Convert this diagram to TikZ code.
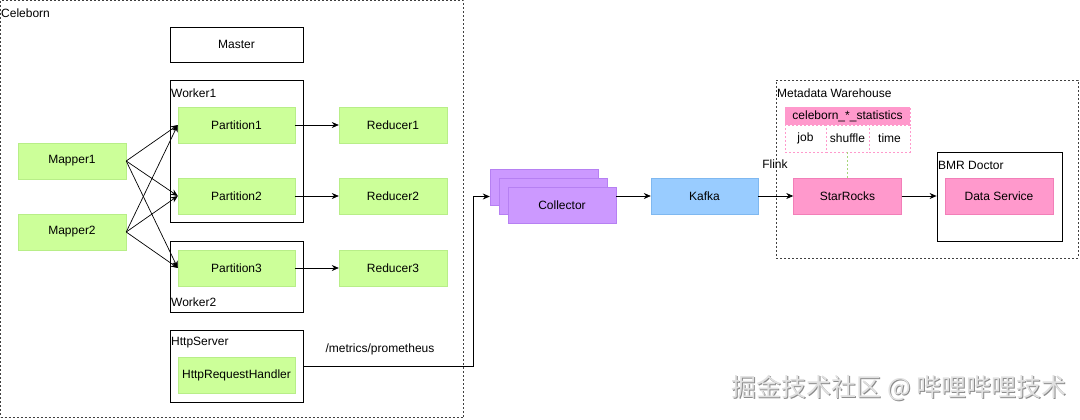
\documentclass[tikz,border=0pt]{standalone}
\usepackage{fontspec}
\setmainfont{Liberation Sans}
\newfontfamily\cjk{Noto Sans CJK SC}
\usetikzlibrary{arrows.meta}
\definecolor{grn}{HTML}{CCFF99}
\definecolor{grnline}{HTML}{B8EE88}
\definecolor{pur}{HTML}{CC99FF}
\definecolor{purline}{HTML}{B680F2}
\definecolor{blu}{HTML}{99CCFF}
\definecolor{bluline}{HTML}{7FB8F0}
\definecolor{pnk}{HTML}{FF99CC}
\definecolor{pnkline}{HTML}{F27FB8}
\tikzset{
  txt/.style={font=\fontsize{12}{14}\selectfont},
  gbox/.style={txt, draw=grnline, fill=grn, minimum width=117pt, minimum height=36pt, inner sep=0pt},
  rbox/.style={txt, draw=grnline, fill=grn, minimum width=108pt, minimum height=36pt, inner sep=0pt},
  pbox/.style={txt, draw=purline, fill=pur, minimum width=108pt, minimum height=36pt, inner sep=0pt},
  kbox/.style={txt, draw=bluline, fill=blu, minimum width=107pt, minimum height=36pt, inner sep=0pt},
  sbox/.style={txt, draw=pnkline, fill=pnk, minimum width=108pt, minimum height=36pt, inner sep=0pt},
  frame/.style={draw=black, line width=0.8pt, inner sep=0pt},
  dframe/.style={draw=black!75, dash pattern=on 2pt off 2pt, line width=0.7pt, inner sep=0pt},
  lbl/.style={txt, anchor=west, inner sep=1pt},
  arr/.style={-{Stealth[length=7pt,width=6pt]}, line width=0.7pt},
  cell/.style={txt, draw=pnk, dash pattern=on 2pt off 2pt, fill=white, minimum height=27pt, inner sep=0pt},
}
\begin{document}
\begin{tikzpicture}[x=1pt,y=-1pt]
\useasboundingbox (0,0) rectangle (1080,420);
% Celeborn frame
\node[dframe, minimum width=463pt, minimum height=417pt] (cel) at (232,209) {};
\node[lbl] at (0,13) {Celeborn};
% Master
\node[frame, txt, minimum width=133pt, minimum height=35pt] (master) at (236.5,44.5) {Master};
% Worker1
\node[frame, minimum width=133pt, minimum height=142pt] (w1) at (236.5,151) {};
\node[lbl] at (170,93) {Worker1};
% Worker2
\node[frame, minimum width=133pt, minimum height=71pt] (w2) at (236.5,276.5) {};
\node[lbl] at (170,302) {Worker2};
% HttpServer
\node[frame, minimum width=133pt, minimum height=72pt] (hs) at (236.5,366) {};
\node[lbl] at (170,343) {HttpServer};
% green nodes
\node[gbox] (p1) at (236.5,125) {Partition1};
\node[gbox] (p2) at (236.5,196) {Partition2};
\node[gbox] (p3) at (236.5,268) {Partition3};
\node[gbox] (hrh) at (236.5,375) {HttpRequestHandler};
\node[rbox] (m1) at (72,161) {Mapper1};
\node[rbox] (m2) at (72,232) {Mapper2};
\node[rbox] (r1) at (393,125) {Reducer1};
\node[rbox] (r2) at (393,196) {Reducer2};
\node[rbox] (r3) at (393,268) {Reducer3};
% mapper arrows
\foreach \m in {m1,m2}{
  \foreach \p in {p1,p2,p3}{
    \draw[arr] (\m.east) -- (\p.west);
  }
}
\draw[arr] (p1) -- (r1);
\draw[arr] (p2) -- (r2);
\draw[arr] (p3) -- (r3);
% Collector stack
\node[pbox] (c1) at (544,187.5) {};
\node[pbox] (c2) at (553,196.5) {};
\node[pbox] (c3) at (562,205) {Collector};
\draw[arr] (hs.east) -- ++(170,0) |- (c1.west |- c2.west);
\node[txt, anchor=south] (mp) at (380,359) {/metrics/prometheus};
% Kafka
\node[kbox] (kafka) at (704.5,196) {Kafka};
\draw[arr] (c3.east |- kafka.west) -- (kafka.west);
% Metadata warehouse
\node[dframe, minimum width=302pt, minimum height=178pt] (mw) at (927,169) {};
\node[lbl] at (776,93) {Metadata Warehouse};
% StarRocks
\node[sbox] (sr) at (847.5,196) {StarRocks};
\draw[arr] (kafka) -- (sr);
\node[txt] (flink) at (775,164) {Flink};
% table
\node[txt, draw=pnk, dash pattern=on 2pt off 2pt, fill=pnk, minimum width=125pt, minimum height=18pt, inner sep=0pt] (th) at (847.5,116) {celeborn\_*\_statistics};
\node[cell, minimum width=41pt] (cj) at (805.5,138.5) {job};
\node[cell, minimum width=43pt] (cs) at (847.5,138.5) {shuffle};
\node[cell, minimum width=41pt] (ct) at (889.5,138.5) {time};
\draw[draw=grnline!90!black, dash pattern=on 2pt off 2pt, line width=0.6pt] (cs.south) -- (sr.north);
% BMR Doctor
\node[frame, minimum width=125pt, minimum height=89pt] (bmr) at (999.5,196.5) {};
\node[lbl] at (937,165) {BMR Doctor};
\node[sbox] (ds) at (999,196) {Data Service};
\draw[arr] (sr.east) -- (bmr.west |- sr.east);
% watermark
\node[font=\cjk\fontsize{25}{27}\selectfont, text=black!45] (wm0) at (900,389) {掘金技术社区 @ 哔哩哔哩技术};
\node[font=\cjk\fontsize{25}{27}\selectfont, text=black!12] (wm) at (899,388) {掘金技术社区 @ 哔哩哔哩技术};
\end{tikzpicture}
\end{document}
